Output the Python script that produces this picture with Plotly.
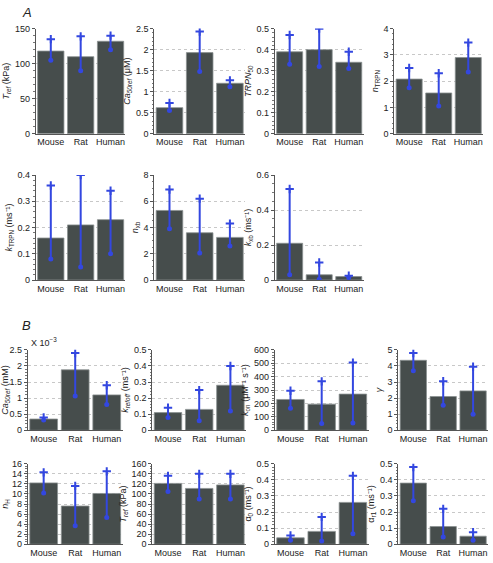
import plotly.graph_objects as go

species = ["Mouse", "Rat", "Human"]

# Panel A
tref_a = [118, 110, 132]; tref_a_lo = [105, 90, 120]; tref_a_hi = [135, 139, 140]
ca50_a = [0.62, 1.93, 1.20]; ca50_a_lo = [0.55, 1.48, 1.12]; ca50_a_hi = [0.73, 2.43, 1.27]
trpn50 = [0.39, 0.40, 0.34]; trpn50_lo = [0.33, 0.32, 0.31]; trpn50_hi = [0.47, 0.50, 0.39]
ntrpn = [2.08, 1.55, 2.90]; ntrpn_lo = [1.75, 1.05, 2.35]; ntrpn_hi = [2.50, 2.30, 3.47]
ktrpn = [0.16, 0.21, 0.23]; ktrpn_lo = [0.08, 0.05, 0.10]; ktrpn_hi = [0.36, 0.40, 0.34]
nxb = [5.3, 3.6, 3.25]; nxb_lo = [3.9, 2.05, 2.6]; nxb_hi = [6.9, 6.2, 4.3]
kxb = [0.21, 0.03, 0.02]; kxb_lo = [0.03, 0.005, 0.015]; kxb_hi = [0.52, 0.10, 0.025]

# Panel B
ca50_b = [0.35, 1.88, 1.10]; ca50_b_lo = [0.32, 1.07, 0.80]; ca50_b_hi = [0.40, 2.40, 1.40]
krefoff = [0.11, 0.13, 0.28]; krefoff_lo = [0.08, 0.06, 0.12]; krefoff_hi = [0.14, 0.25, 0.40]
kon = [230, 195, 270]; kon_lo = [165, 50, 55]; kon_hi = [295, 365, 505]
gamma = [4.35, 2.10, 2.45]; gamma_lo = [3.70, 1.55, 1.00]; gamma_hi = [4.80, 3.05, 3.95]
nh = [12.2, 7.6, 10.1]; nh_lo = [10.2, 3.7, 5.3]; nh_hi = [14.3, 11.6, 14.5]
tref_b = [121, 111, 118]; tref_b_lo = [105, 90, 90]; tref_b_hi = [136, 140, 140]
alpha0 = [0.04, 0.08, 0.26]; alpha0_lo = [0.025, 0.02, 0.065]; alpha0_hi = [0.055, 0.17, 0.425]
alphar1 = [0.38, 0.11, 0.05]; alphar1_lo = [0.27, 0.045, 0.025]; alphar1_hi = [0.48, 0.22, 0.075]

panels = [
    # values, lo, hi, ylabel, ymax, dtick, (x0,x1) px, (y0,y1) px
    (tref_a, tref_a_lo, tref_a_hi, "<i>T</i><sub><i>ref</i></sub> (kPa)", 150, 50, (34, 124), (24, 131)),
    (ca50_a, ca50_a_lo, ca50_a_hi, "<i>Ca</i><sub><i>50ref</i></sub> (μM)", 2.5, 0.5, (153, 244), (24, 131)),
    (trpn50, trpn50_lo, trpn50_hi, "<i>TRPN</i><sub>50</sub>", 0.5, 0.1, (274, 363), (24, 131)),
    (ntrpn, ntrpn_lo, ntrpn_hi, "<i>n</i><sub>TRPN</sub>", 4, 1, (394, 483), (24, 131)),
    (ktrpn, ktrpn_lo, ktrpn_hi, "<i>k</i><sub>TRPN</sub> (ms⁻¹)", 0.4, 0.1, (34, 124), (173, 280)),
    (nxb, nxb_lo, nxb_hi, "<i>n</i><sub>xb</sub>", 8, 2, (153, 244), (173, 280)),
    (kxb, kxb_lo, kxb_hi, "<i>k</i><sub>xb</sub> (ms⁻¹)", 0.6, 0.2, (274, 363), (173, 280)),
    (ca50_b, ca50_b_lo, ca50_b_hi, "<i>Ca</i><sub><i>50ref</i></sub> (mM)", 2.5, 0.5, (26, 121), (351, 433)),
    (krefoff, krefoff_lo, krefoff_hi, "<i>k</i><sub><i>refoff</i></sub> (ms⁻¹)", 0.5, 0.1, (151, 245), (351, 433)),
    (kon, kon_lo, kon_hi, "<i>k</i><sub>on</sub> (μM⁻¹ s⁻¹)", 600, 100, (274, 368), (351, 433)),
    (gamma, gamma_lo, gamma_hi, "<i>γ</i>", 5, 1, (398, 488), (351, 433)),
    (nh, nh_lo, nh_hi, "<i>n</i><sub>H</sub>", 16, 2, (26, 121), (467, 549)),
    (tref_b, tref_b_lo, tref_b_hi, "<i>T</i><sub><i>ref</i></sub> (kPa)", 160, 20, (151, 245), (467, 549)),
    (alpha0, alpha0_lo, alpha0_hi, "α<sub>0</sub> (ms⁻¹)", 0.5, 0.1, (274, 368), (467, 549)),
    (alphar1, alphar1_lo, alphar1_hi, "α<sub>r1</sub> (ms⁻¹)", 0.5, 0.1, (398, 488), (467, 549)),
]

W, H = 493, 563
BAR = "#464d4c"
ERR = "#3347e0"
FONT = "Liberation Sans"

fig = go.Figure()
layout = {}
for i, (vals, lo, hi, ylab, ymax, dt, (x0, x1), (y0, y1)) in enumerate(panels):
    n = i + 1
    xa = "x" if n == 1 else f"x{n}"
    ya = "y" if n == 1 else f"y{n}"
    fig.add_trace(go.Bar(x=species, y=vals, xaxis=xa, yaxis=ya,
                         marker=dict(color=BAR, line=dict(color="#8a9090", width=0.8)),
                         showlegend=False))
    lx, ly = [], []
    for s, a, b in zip(species, lo, hi):
        lx += [s, s, None]
        ly += [a, b, None]
    fig.add_trace(go.Scatter(x=lx, y=ly, xaxis=xa, yaxis=ya, mode="lines",
                             line=dict(color=ERR, width=2), showlegend=False))
    fig.add_trace(go.Scatter(x=species, y=hi, xaxis=xa, yaxis=ya, mode="markers",
                             marker=dict(symbol="cross-thin", size=6, line=dict(color=ERR, width=2)),
                             showlegend=False))
    fig.add_trace(go.Scatter(x=species, y=lo, xaxis=xa, yaxis=ya, mode="markers",
                             marker=dict(symbol="circle", size=5, color=ERR),
                             showlegend=False))
    layout["xaxis" if n == 1 else f"xaxis{n}"] = dict(
        domain=[x0 / W, x1 / W], anchor=ya, range=[-0.5, 2.5],
        showline=True, linecolor="#555", linewidth=1, ticks="",
        tickfont=dict(size=9, color="#222"), fixedrange=True, showgrid=False)
    layout["yaxis" if n == 1 else f"yaxis{n}"] = dict(
        domain=[1 - y1 / H, 1 - y0 / H], anchor=xa, range=[0, ymax * 1.001],
        dtick=dt, tick0=0, showline=True, linecolor="#555", linewidth=1,
        ticks="outside", ticklen=3, tickcolor="#555",
        minor=dict(ticks="outside", ticklen=1.5, tickcolor="#777", nticks=5, showgrid=False),
        showgrid=True, gridcolor="#c8c8c8", griddash="dot", gridwidth=1,
        zeroline=False, tickfont=dict(size=9, color="#222"),
        title=dict(text=ylab, font=dict(size=9, color="#222"), standoff=3))

fig.update_layout(**layout)
fig.update_layout(
    width=W, height=H, margin=dict(l=0, r=0, t=0, b=0),
    paper_bgcolor="white", plot_bgcolor="white",
    bargap=0.12, font=dict(family=FONT, size=9, color="#222"),
    annotations=[
        dict(text="<i>A</i>", x=18 / W, y=1 - 8 / H, xref="paper", yref="paper",
             showarrow=False, font=dict(size=13), xanchor="left", yanchor="middle"),
        dict(text="<i>B</i>", x=18 / W, y=1 - 326 / H, xref="paper", yref="paper",
             showarrow=False, font=dict(size=13), xanchor="left", yanchor="middle"),
        dict(text="X 10<sup>−3</sup>", x=27 / W, y=1 - 343 / H, xref="paper", yref="paper",
             showarrow=False, font=dict(size=9), xanchor="left", yanchor="middle"),
    ],
)

fig.write_html("out.html", config={"displayModeBar": False},
               post_script="document.body.style.margin='0';document.body.style.overflow='hidden';")
